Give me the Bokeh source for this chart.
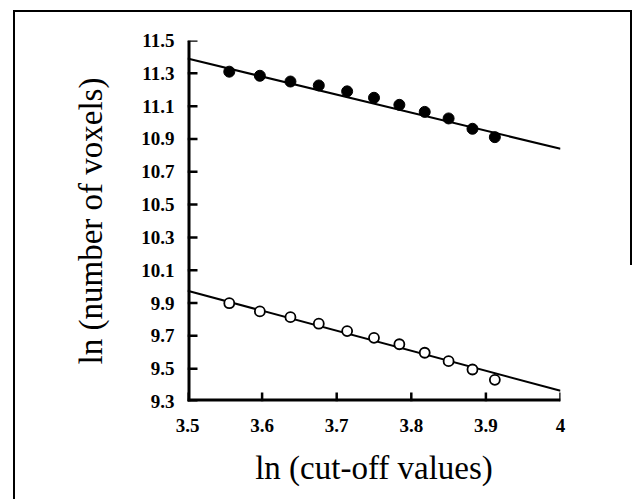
import math
from bokeh.plotting import figure
from bokeh.models import FixedTicker
from bokeh.embed import file_html
from bokeh.resources import INLINE

# ln(cut-off values)
cutoff_ln = [3.556, 3.597, 3.638, 3.676, 3.714, 3.750, 3.784, 3.818, 3.850, 3.882, 3.912]
# ln(number of voxels), filled circles
voxels_filled = [11.31, 11.285, 11.25, 11.226, 11.19, 11.151, 11.108, 11.065, 11.025, 10.962, 10.911]
# ln(number of voxels), open circles
voxels_open = [9.899, 9.849, 9.814, 9.774, 9.729, 9.688, 9.649, 9.597, 9.546, 9.495, 9.432]
# fitted lines (end points)
fit_x = [3.5, 4.0]
fit_filled = [11.39, 10.84]
fit_open = [9.975, 9.365]

x_lo, x_hi = 3.5, 4.0
y_lo, y_hi = 9.3, 11.5
x_ticks = [3.5, 3.6, 3.7, 3.8, 3.9, 4.0]
x_tick_labels = ["3.5", "3.6", "3.7", "3.8", "3.9", "4"]
y_ticks = [9.3, 9.5, 9.7, 9.9, 10.1, 10.3, 10.5, 10.7, 10.9, 11.1, 11.3, 11.5]

p = figure(width=619, height=489, x_range=(x_lo, x_hi), y_range=(y_lo, y_hi),
           output_backend="svg", toolbar_location=None,
           min_border_left=172, min_border_right=74, min_border_top=28, min_border_bottom=100,
           margin=(10, 0, 0, 13),
           styles={"border-top": "2px solid black", "border-left": "2px solid black",
                   "background": "linear-gradient(black, black) no-repeat right top / 2px 253px"})
p.xgrid.visible = False
p.ygrid.visible = False
p.outline_line_color = None
p.background_fill_color = None
p.border_fill_color = None

# data first
p.line(fit_x, fit_filled, line_color="black", line_width=2)
p.line(fit_x, fit_open, line_color="black", line_width=2)
p.scatter(cutoff_ln, voxels_filled, size=11, marker="circle", fill_color="black", line_color="black")
p.scatter(cutoff_ln, voxels_open, size=10, marker="circle", fill_color="white", line_color="black", line_width=1.8)

# axis rules and inward ticks, drawn after the data
p.line([x_lo, x_lo], [y_lo, y_hi], line_color="black", line_width=6)
p.line([x_lo, x_hi], [y_lo, y_lo], line_color="black", line_width=6)
p.ray(x=[x_lo] * len(y_ticks), y=y_ticks, length=10, length_units="screen",
      angle=0, line_color="black", line_width=2.5)
p.ray(x=x_ticks, y=[y_lo] * len(x_ticks), length=9, length_units="screen",
      angle=math.pi / 2, line_color="black", line_width=2.5)

for ax in (p.xaxis[0], p.yaxis[0]):
    ax.axis_line_color = None
    ax.major_tick_line_color = None
    ax.minor_tick_line_color = None
    ax.major_tick_out = 0
    ax.major_tick_in = 0
    ax.major_label_text_font = "Liberation Serif"
    ax.major_label_text_font_style = "bold"
    ax.major_label_text_font_size = "19px"
    ax.major_label_text_color = "black"
    ax.axis_label_text_font = "Liberation Serif"
    ax.axis_label_text_font_style = "normal"
    ax.axis_label_text_font_size = "33px"
    ax.axis_label_text_color = "black"

p.xaxis.ticker = FixedTicker(ticks=x_ticks)
p.xaxis.major_label_overrides = {t: l for t, l in zip(x_ticks, x_tick_labels)}
p.yaxis.ticker = FixedTicker(ticks=y_ticks)
p.yaxis.major_label_overrides = {t: f"{t:.1f}" for t in y_ticks}
p.xaxis.axis_label = "ln (cut-off values)"
p.yaxis.axis_label = "ln (number of voxels)"
p.xaxis.major_label_standoff = 17
p.yaxis.major_label_standoff = 13
p.xaxis.axis_label_standoff = 15
p.yaxis.axis_label_standoff = 29

open("out.html", "w").write(file_html(p, INLINE))
